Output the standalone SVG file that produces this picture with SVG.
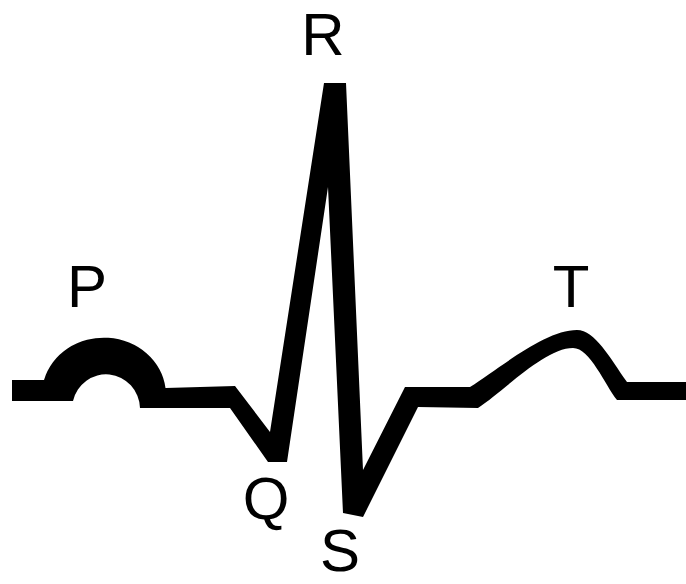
<svg xmlns="http://www.w3.org/2000/svg" width="686" height="584" viewBox="0 0 686 584">
<style>
.lbl{font-family:"Liberation Sans",Arial,sans-serif;font-size:60px;fill:#000;text-anchor:middle}
.wave{fill:#000;stroke:none}
</style>
<rect width="686" height="584" fill="#fff"/>
<g id="trace">
<path class="wave" d="M12,380 L44,380 A62,57 0 0 1 165.5,388 L235,386 L270,432 L324,83 L346,83 L363,470 L405,387 L470,387 C500,368 545,330 577,330 C595,330 610,358 627,382 L686,382 L686,400 L617,400 C605,385 590,348 573,348 C545,348 505,390 478,408 L418,407 L363,517 L343,513 L328,187 L287,462 L268,462 L230,408 L140,408 A34,35 0 0 0 73,401 L12,401 Z"/>
</g>
<g id="labels">
<text id="label-P" class="lbl" x="87" y="307">P</text>
<text id="label-R" class="lbl" x="323" y="55">R</text>
<text id="label-T" class="lbl" x="571" y="307">T</text>
<text id="label-Q" class="lbl" x="266" y="519">Q</text>
<text id="label-S" class="lbl" x="340" y="571">S</text>
</g>
</svg>
